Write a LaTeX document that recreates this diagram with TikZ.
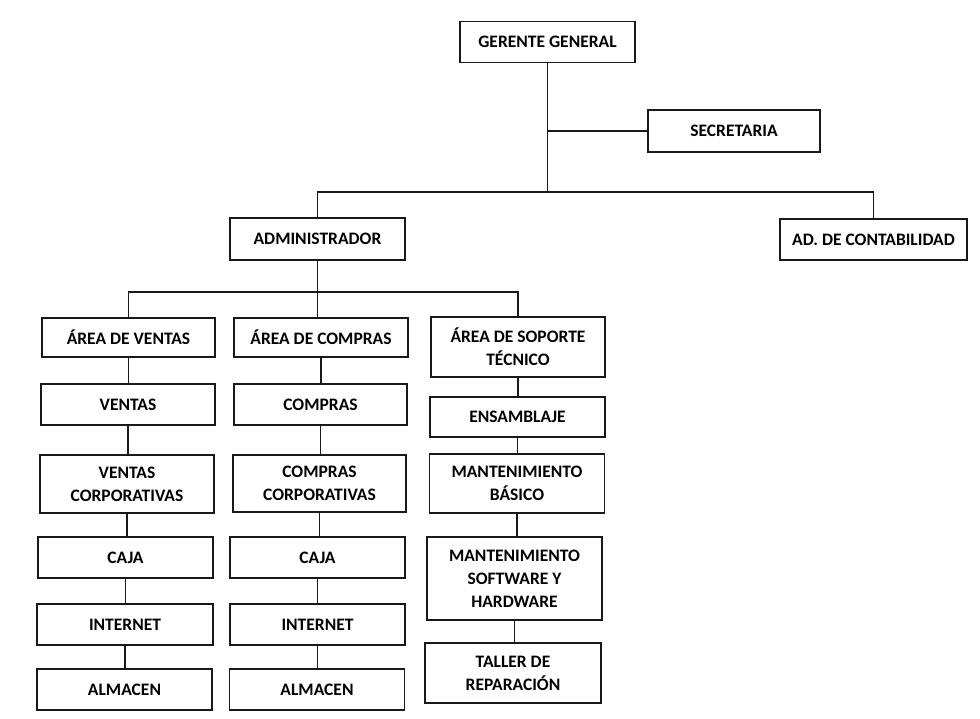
\documentclass[tikz,border=0pt]{standalone}
\usepackage{fontspec}
\setmainfont{Carlito}
\begin{document}
\begin{tikzpicture}[x=1pt,y=-1pt,
  unit/.style={draw=black!90, line width=1.8pt, fill=white, align=center,
    text=black, font=\bfseries\fontsize{17.5}{23}\selectfont,
    inner sep=0pt, minimum width=#1, minimum height=41},
  unit/.default=175,
  link/.style={draw=black!90, line width=1.7pt}]
\useasboundingbox[fill=white] (0,0) rectangle (980,719);

% top management
\node[unit] (gg) at (547.5,42) {GERENTE GENERAL};
\node[unit=172, minimum height=42] (sec) at (734,131) {SECRETARIA};
\node[unit, minimum height=42] (adm) at (317.5,239) {ADMINISTRADOR};
\node[unit=187] (cont) at (873.5,239.5) {AD. DE CONTABILIDAD};

% areas
\node[unit=173, minimum height=39] (av) at (128.5,337.5) {ÁREA DE VENTAS};
\node[unit=174, minimum height=39] (ac) at (321,337.5) {ÁREA DE COMPRAS};
\node[unit=174, minimum height=60] (as) at (518,347) {ÁREA DE SOPORTE\\TÉCNICO};

% sales column
\node[unit=174] (v1) at (128,404.5) {VENTAS};
\node[unit=174, minimum height=58] (v2) at (127,484) {VENTAS\\CORPORATIVAS};
\node[unit=175] (v3) at (125.5,557.5) {CAJA};
\node[unit=176] (v4) at (125,624.5) {INTERNET};
\node[unit=175] (v5) at (124.5,689.5) {ALMACEN};

% purchasing column
\node[unit=173] (c1) at (320.5,404.5) {COMPRAS};
\node[unit=173, minimum height=57] (c2) at (319.5,483.5) {COMPRAS\\CORPORATIVAS};
\node[unit=175] (c3) at (317.5,557.5) {CAJA};
\node[unit=175] (c4) at (317.5,624.5) {INTERNET};
\node[unit=175] (c5) at (317,689.5) {ALMACEN};

% technical support column
\node[unit=175, minimum height=40] (s1) at (517.5,417) {ENSAMBLAJE};
\node[unit=175, minimum height=59] (s2) at (517,483.5) {MANTENIMIENTO\\BÁSICO};
\node[unit=175, minimum height=83] (s3) at (514.5,578.5) {MANTENIMIENTO\\SOFTWARE Y\\HARDWARE};
\node[unit=176, minimum height=60] (s4) at (513,673) {TALLER DE\\REPARACIÓN};

% junction points of the horizontal bars
\coordinate (bus1) at (547.5,192);
\coordinate (bus2) at (317.5,292);

% connectors
\draw[link] (gg.south) -- (bus1);
\draw[link] (sec.west) -- (sec.west -| gg.south);
\draw[link] (adm.north) |- (bus1) -| (cont.north);
\draw[link] (adm.south) -- (adm.south |- ac.north);
\draw[link] (av.north) |- (bus2) -| (as.north);

\draw[link] (av.south) -- (av.south |- v1.north);
\draw[link] (v1.south) -- (v1.south |- v2.north);
\draw[link] (v2.south) -- (v2.south |- v3.north);
\draw[link] (v3.south) -- (v3.south |- v4.north);
\draw[link] (v4.south) -- (v4.south |- v5.north);

\draw[link] (ac.south) -- (ac.south |- c1.north);
\draw[link] (c1.south) -- (c1.south |- c2.north);
\draw[link] (c2.south) -- (c2.south |- c3.north);
\draw[link] (c3.south) -- (c3.south |- c4.north);
\draw[link] (c4.south) -- (c4.south |- c5.north);

\draw[link] (as.south) -- (as.south |- s1.north);
\draw[link] (s1.south) -- (s1.south |- s2.north);
\draw[link] (s2.south) -- (s2.south |- s3.north);
\draw[link] (s3.south) -- (s3.south |- s4.north);
\end{tikzpicture}
\end{document}
